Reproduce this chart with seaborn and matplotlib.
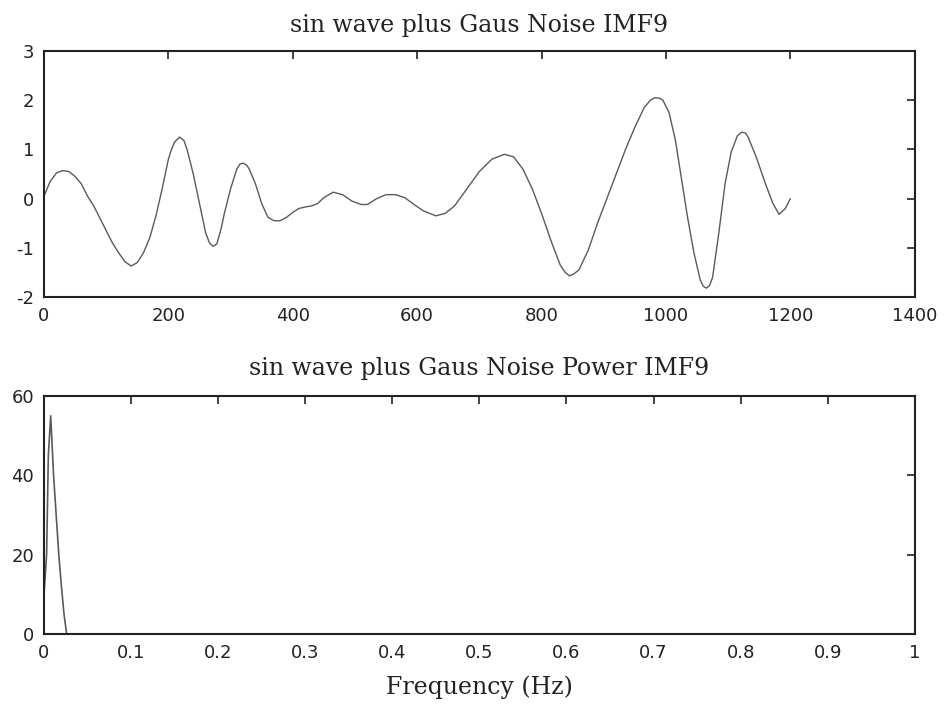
import matplotlib
matplotlib.use("Agg")
import matplotlib.pyplot as plt
import seaborn as sns
import pandas as pd

# ---- data: IMF9 time series ----
imf_x = [0, 10, 20, 30, 40, 50, 60, 70, 80, 90, 100, 110, 120, 130, 140, 150, 160, 170,
         180, 190, 200, 205, 210, 218, 225, 230, 240, 250, 260, 266, 272, 278, 285, 290,
         300, 310, 315, 320, 326, 330, 340, 350, 360, 370, 380, 390, 400, 410, 420, 430,
         440, 450, 465, 480, 495, 510, 520, 535, 550, 565, 580, 595, 610, 630, 645, 660,
         680, 700, 720, 740, 755, 770, 785, 800, 815, 830, 838, 845, 852, 860, 875, 890,
         905, 920, 935, 950, 965, 975, 982, 990, 995, 1005, 1015, 1025, 1035, 1045, 1055,
         1060, 1065, 1070, 1075, 1085, 1095, 1105, 1115, 1122, 1128, 1132, 1145, 1160,
         1172, 1182, 1192, 1200]
imf_y = [0.05, 0.35, 0.52, 0.57, 0.55, 0.45, 0.3, 0.05, -0.15, -0.4, -0.65, -0.9, -1.1,
         -1.28, -1.37, -1.3, -1.1, -0.8, -0.35, 0.2, 0.8, 1.0, 1.15, 1.25, 1.18, 1.0, 0.5,
         -0.1, -0.7, -0.9, -0.97, -0.92, -0.6, -0.3, 0.2, 0.6, 0.7, 0.72, 0.68, 0.6, 0.3,
         -0.1, -0.38, -0.45, -0.45, -0.38, -0.28, -0.2, -0.17, -0.15, -0.1, 0.02, 0.13,
         0.08, -0.05, -0.12, -0.12, 0.0, 0.08, 0.08, 0.02, -0.12, -0.25, -0.35, -0.3,
         -0.15, 0.2, 0.55, 0.8, 0.9, 0.85, 0.6, 0.2, -0.3, -0.85, -1.35, -1.5, -1.57, -1.53,
         -1.45, -1.05, -0.5, 0.0, 0.5, 1.0, 1.45, 1.85, 2.0, 2.05, 2.04, 2.0, 1.75, 1.2, 0.4,
         -0.4, -1.1, -1.65, -1.78, -1.82, -1.77, -1.6, -0.7, 0.3, 0.95, 1.28, 1.35, 1.33,
         1.25, 0.85, 0.3, -0.1, -0.32, -0.2, 0.0]

# ---- data: power spectrum of IMF9 ----
freq = [0.0, 0.0, 0.0, 0.003, 0.005, 0.0077, 0.0088, 0.011, 0.014, 0.017, 0.020, 0.023,
        0.026, 0.026, 1.0]
power = [0, 25, 10, 20, 45, 55, 50, 40, 30, 20, 12, 5, 0, 0, 0]

top_xticks = [0, 200, 400, 600, 800, 1000, 1200, 1400]
top_yticks = [-2, -1, 0, 1, 2, 3]
bot_xticks = [0, 0.1, 0.2, 0.3, 0.4, 0.5, 0.6, 0.7, 0.8, 0.9, 1]
bot_xlabels = ["0", "0.1", "0.2", "0.3", "0.4", "0.5", "0.6", "0.7", "0.8", "0.9", "1"]
bot_yticks = [0, 20, 40, 60]

sns.set_style("white")
plt.rcParams["font.family"] = ["DejaVu Sans"]
plt.rcParams["axes.unicode_minus"] = False
plt.rcParams["xtick.direction"] = "in"
plt.rcParams["ytick.direction"] = "in"

fig = plt.figure(figsize=(9.44, 7.15), dpi=100)
ax1 = fig.add_axes([0.0466, 0.5846, 0.9224, 0.3441])
ax2 = fig.add_axes([0.0466, 0.1133, 0.9224, 0.3329])

line_color = "#5a5a5a"
df1 = pd.DataFrame({"t": imf_x, "v": imf_y})
sns.lineplot(data=df1, x="t", y="v", ax=ax1, color=line_color, linewidth=1.0,
             estimator=None, sort=False)
df2 = pd.DataFrame({"f": freq, "p": power})
sns.lineplot(data=df2, x="f", y="p", ax=ax2, color=line_color, linewidth=1.2,
             estimator=None, sort=False)

serif = ["DejaVu Serif"]
ax1.set_xlim(0, 1400)
ax1.set_ylim(-2, 3)
ax1.set_xticks(top_xticks)
ax1.set_yticks(top_yticks)
ax1.set_title("sin wave plus Gaus Noise IMF9", family=serif, fontsize=17, pad=13.5,
              color="#222222")
ax1.set_xlabel("")
ax1.set_ylabel("")

ax2.set_xlim(0, 1)
ax2.set_ylim(0, 60)
ax2.set_xticks(bot_xticks)
ax2.set_xticklabels(bot_xlabels)
ax2.set_yticks(bot_yticks)
ax2.set_title("sin wave plus Gaus Noise Power IMF9", family=serif, fontsize=17, pad=15,
              color="#222222")
ax2.set_xlabel("Frequency (Hz)", family=serif, fontsize=17, labelpad=10, color="#222222")
ax2.set_ylabel("")

for ax in (ax1, ax2):
    for s in ax.spines.values():
        s.set_visible(True)
        s.set_color("#222222")
        s.set_linewidth(1.5)
    ax.tick_params(axis="both", which="both", direction="in", top=True, right=True,
                   length=6, width=1.2, color="#222222", labelsize=13,
                   labelcolor="#222222", pad=7)

fig.savefig("out.png", dpi=100, facecolor="white")
